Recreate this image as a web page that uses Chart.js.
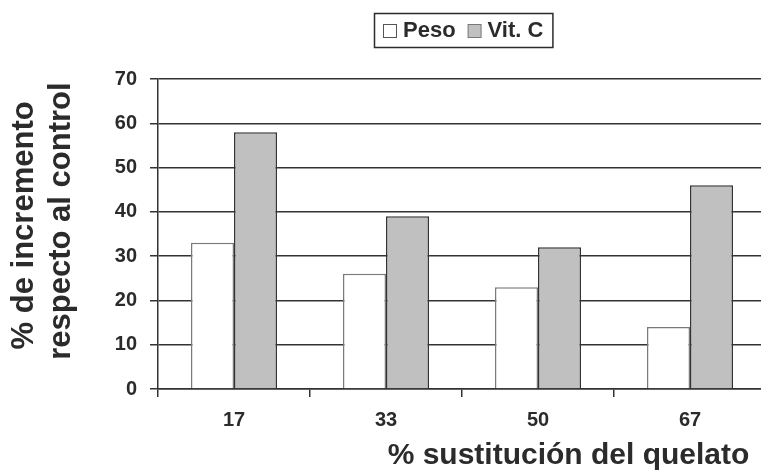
<!DOCTYPE html>
<html>
<head>
<meta charset="utf-8">
<script src="https://cdn.jsdelivr.net/npm/chart.js@4"></script>
<style>
  html, body { margin: 0; padding: 0; background: #fff; overflow: hidden; }
  #wrap { position: relative; width: 770px; height: 472px; }
</style>
</head>
<body>
<div id="wrap"><canvas id="chart"></canvas></div>
<script>
// Substitution levels of the chelate (%) and the increase of each variable vs. control (%)
const categories = ['17', '33', '50', '67'];
const seriesNames = ['Peso', 'Vit. C'];
const pesoValues = [33, 26, 23, 14];
const vitCValues = [58, 39, 32, 46];
const yTickValues = [0, 10, 20, 30, 40, 50, 60, 70];

const FONT = '"Liberation Sans", Arial, sans-serif';
const INK = '#2b2b2b';

// Boxed legend drawn above the plot, centred at a given x
const framedLegend = {
  id: 'framedLegend',
  afterDraw(chart, args, opts) {
    const ctx = chart.ctx;
    ctx.save();
    ctx.font = 'bold ' + opts.fontSize + 'px ' + FONT;
    ctx.textBaseline = 'middle';
    const box = opts.boxSize;
    const items = chart.data.datasets.map(ds => ({
      label: ds.label,
      fill: ds.backgroundColor,
      stroke: ds.legendStroke || ds.borderColor,
      w: ctx.measureText(ds.label).width
    }));
    const total = opts.padX * 2 +
      items.reduce((s, it) => s + box + opts.textGap + it.w, 0) +
      opts.itemGap * (items.length - 1);
    const left = Math.round(opts.centerX - total / 2);
    const top = opts.top;
    const midY = top + opts.height / 2;

    ctx.lineWidth = 1.5;
    ctx.strokeStyle = INK;
    ctx.strokeRect(left + 0.5, top + 0.5, total, opts.height);

    let x = left + opts.padX;
    items.forEach(it => {
      const by = Math.round(midY - box / 2) + 0.5;
      ctx.fillStyle = it.fill;
      ctx.fillRect(x + 0.5, by, box, box);
      ctx.lineWidth = 1;
      ctx.strokeStyle = it.stroke;
      ctx.strokeRect(x + 0.5, by, box, box);
      x += box + opts.textGap;
      ctx.fillStyle = INK;
      ctx.fillText(it.label, x, midY + 1);
      x += it.w + opts.itemGap;
    });
    ctx.restore();
  }
};

new Chart(document.getElementById('chart'), {
  type: 'bar',
  data: {
    labels: categories,
    datasets: [
      {
        label: seriesNames[0],
        data: pesoValues,
        backgroundColor: '#ffffff',
        borderColor: '#7a7a7a',
        legendStroke: '#555555',
        borderWidth: 1.5
      },
      {
        label: seriesNames[1],
        data: vitCValues,
        backgroundColor: '#c0c0c0',
        borderColor: '#333333',
        legendStroke: '#777777',
        borderWidth: 1.5
      }
    ]
  },
  options: {
    responsive: true,
    maintainAspectRatio: false,
    animation: false,
    layout: { padding: { top: 79, right: 4, left: 0, bottom: 0 } },
    datasets: {
      bar: { categoryPercentage: 0.566, barPercentage: 1.0, borderSkipped: 'start' }
    },
    plugins: {
      legend: { display: false },
      tooltip: { enabled: false },
      framedLegend: {
        centerX: 463, top: 13, height: 34, boxSize: 13,
        padX: 9, textGap: 7, itemGap: 12, fontSize: 22
      }
    },
    scales: {
      x: {
        afterFit(scale) { scale.height = 83; },
        offset: true,
        grid: {
          display: true, offset: true, drawOnChartArea: false, drawTicks: true,
          tickLength: 8, color: '#333333', lineWidth: 1.5
        },
        border: { display: true, color: '#333333', width: 1.5 },
        ticks: {
          color: INK, padding: 11,
          font: { family: FONT, size: 20, weight: 'bold' }
        },
        title: {
          display: true,
          text: '% sustitución del quelato  ',
          align: 'end',
          color: INK,
          font: { family: FONT, size: 30, weight: 'bold', lineHeight: 1 },
          padding: { top: 0, bottom: 1 }
        }
      },
      y: {
        afterFit(scale) { scale.width = 158; },
        min: 0,
        max: 70,
        afterBuildTicks(scale) { scale.ticks = yTickValues.map(v => ({ value: v })); },
        grid: {
          color: '#333333', lineWidth: 1.5, drawTicks: true, tickLength: 8
        },
        border: { display: true, color: '#333333', width: 1.5 },
        ticks: {
          color: INK, padding: 13,
          font: { family: FONT, size: 20, weight: 'bold' }
        },
        title: {
          display: true,
          text: ['  % de incremento', '   respecto al control'],
          color: INK,
          font: { family: FONT, size: 31, weight: 'bold', lineHeight: 1.2 },
          padding: { top: 6, bottom: 0 }
        }
      }
    }
  },
  plugins: [framedLegend]
});
</script>
</body>
</html>
